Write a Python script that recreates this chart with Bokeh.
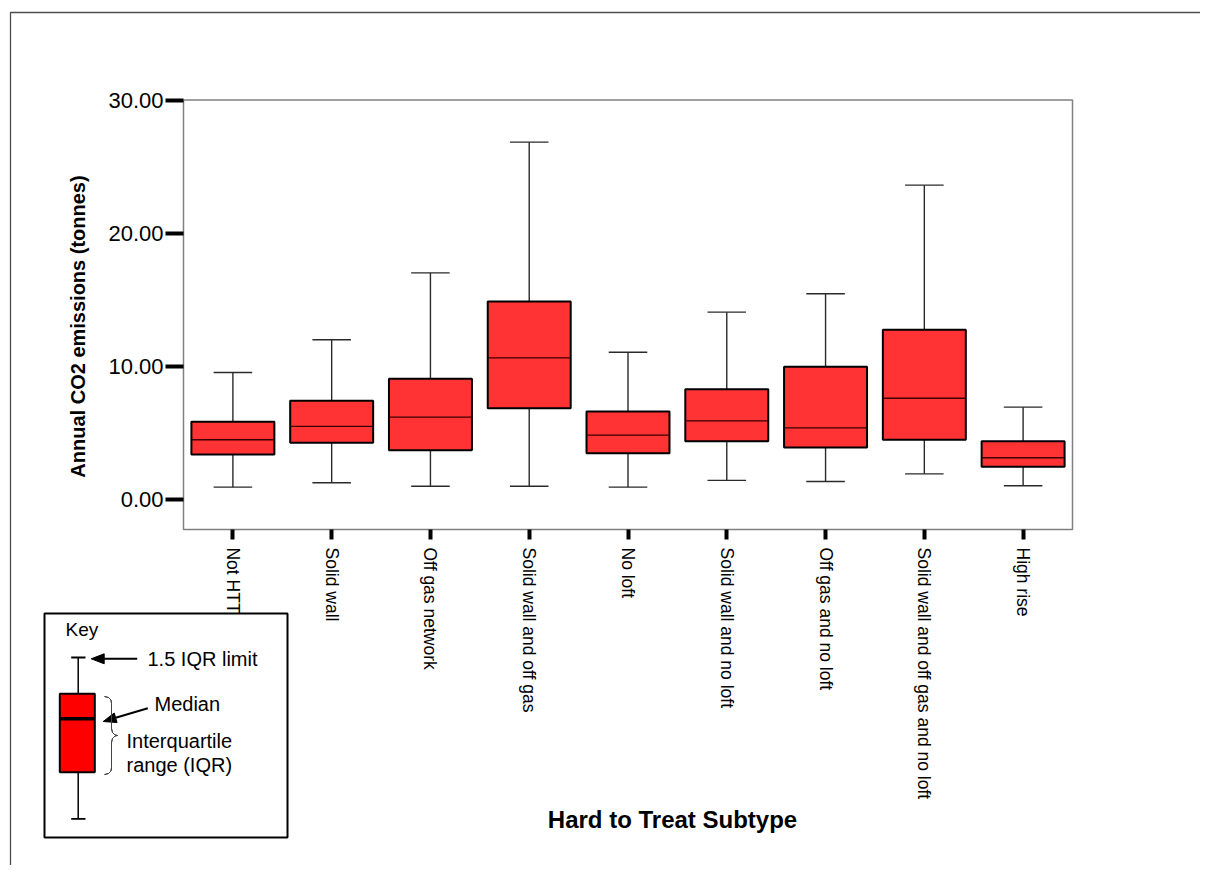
import math
from bokeh.plotting import figure
from bokeh.models import (ColumnDataSource, Range1d, Label, PolyAnnotation, BoxAnnotation,
                          FixedTicker, PrintfTickFormatter, LinearAxis)
from bokeh.transform import dodge
from bokeh.embed import file_html
from bokeh.resources import INLINE

# ---------------- data ----------------
subtypes = ["Not HTT", "Solid wall", "Off gas network", "Solid wall and off gas",
            "No loft", "Solid wall and no loft", "Off gas and no loft",
            "Solid wall and off gas and no loft", "High rise"]
whisker_high = [9.56, 12.02, 17.05, 26.87, 11.09, 14.10, 15.48, 23.64, 6.96]
upper_quartile = [5.86, 7.44, 9.09, 14.90, 6.63, 8.31, 9.99, 12.77, 4.40]
median = [4.51, 5.51, 6.21, 10.67, 4.86, 5.93, 5.41, 7.63, 3.16]
lower_quartile = [3.40, 4.28, 3.73, 6.88, 3.50, 4.39, 3.93, 4.51, 2.48]
whisker_low = [0.95, 1.28, 1.02, 1.02, 0.95, 1.46, 1.37, 1.95, 1.05]
y_ticks = [0, 10, 20, 30]

FONT = "Liberation Sans"
W, H = 1200, 865

# geometry of the plotting area (page px) and of the data window
PL, PR = 183.0, 1072.0          # plot area left / right
Y0_PX, Y30_PX = 499.3, 100.0    # pixel rows of y=0 and y=30
SX = (PR - PL) / len(subtypes)  # px per category
SY = (Y0_PX - Y30_PX) / 30.0    # px per tonne
X_START = -PL / SX
X_END = X_START + W / SX
Y_END = Y0_PX / SY
Y_START = Y_END - H / SY
Y_BOTTOM = Y_END - 529.0 / SY   # bottom edge of plot area
Y_TOP = Y_END - 99.5 / SY       # top edge of plot area

p = figure(width=W, height=H, title=None, x_axis_type=None, y_axis_type=None,
           x_range=Range1d(X_START, X_END), y_range=Range1d(Y_START, Y_END),
           output_backend="svg", toolbar_location=None, min_border=0)
p.xgrid.visible = False
p.ygrid.visible = False
p.outline_line_color = None
p.background_fill_color = "white"
p.border_fill_color = "white"

xpos = [i + 0.5 for i in range(len(subtypes))]
src = ColumnDataSource(dict(x=xpos, cat=subtypes, hi=whisker_high, q3=upper_quartile,
                            med=median, q1=lower_quartile, lo=whisker_low))

# plot-area frame
p.add_layout(BoxAnnotation(left=0, right=len(subtypes), bottom=Y_BOTTOM, top=Y_TOP,
                           fill_alpha=0, fill_color=None, line_color="#808080",
                           line_alpha=1, line_width=1.5, level="underlay"))

wcol = "#2a2a2a"
p.segment(x0="x", y0="q3", x1="x", y1="hi", source=src, line_color=wcol, line_width=1.4)
p.segment(x0="x", y0="lo", x1="x", y1="q1", source=src, line_color=wcol, line_width=1.4)
p.segment(x0=dodge("x", -0.195), y0="hi", x1=dodge("x", 0.195), y1="hi", source=src,
          line_color=wcol, line_width=1.4)
p.segment(x0=dodge("x", -0.195), y0="lo", x1=dodge("x", 0.195), y1="lo", source=src,
          line_color=wcol, line_width=1.4)
p.vbar(x="x", top="q3", bottom="q1", width=0.84, source=src,
       fill_color="#FF3333", line_color="black", line_width=2)
p.segment(x0=dodge("x", -0.42), y0="med", x1=dodge("x", 0.42), y1="med", source=src,
          line_color="#3a0000", line_width=1.3)

# ---------------- axes (fixed at the plot-area edges) ----------------
ya = LinearAxis(fixed_location=0)
ya.ticker = FixedTicker(ticks=y_ticks)
ya.formatter = PrintfTickFormatter(format="%.2f")
ya.axis_line_color = None
ya.major_tick_line_width = 4
ya.major_tick_line_color = "black"
ya.major_tick_out = 18
ya.major_tick_in = 0
ya.minor_tick_line_color = None
ya.major_label_standoff = 2
ya.major_label_text_font = FONT
ya.major_label_text_font_size = "22px"
ya.major_label_text_color = "black"
p.add_layout(ya, "left")

xa = LinearAxis(fixed_location=Y_BOTTOM)
xa.ticker = FixedTicker(ticks=xpos)
xa.major_label_overrides = {x: c for x, c in zip(xpos, subtypes)}
xa.axis_line_color = None
xa.major_tick_line_width = 4
xa.major_tick_line_color = "black"
xa.major_tick_out = 10
xa.major_tick_in = 0
xa.minor_tick_line_color = None
xa.major_label_orientation = -math.pi / 2
xa.major_label_standoff = 8
xa.major_label_text_font = FONT
xa.major_label_text_font_size = "17.5px"
xa.major_label_text_color = "black"
p.add_layout(xa, "below")


# ---------------- helpers: page px -> data coordinates ----------------
def dx(px):
    return X_START + px / SX


def dy(py):
    return Y_END - py / SY


def poly(xs, ys, **kw):
    kw.setdefault("line_alpha", 1)
    p.add_layout(PolyAnnotation(xs=[dx(x) for x in xs], ys=[dy(y) for y in ys], **kw))


def line(xs, ys, color="black", width=1.5):
    poly(list(xs) + list(xs[::-1]), list(ys) + list(ys[::-1]),
         fill_color=None, fill_alpha=0, line_color=color, line_width=width)


def text(px, py, s, size="20px", bold=False, angle=0.0, align="left"):
    p.add_layout(Label(x=dx(px), y=dy(py), text=s,
                       text_font=FONT, text_font_size=size,
                       text_font_style="bold" if bold else "normal",
                       text_align=align, text_baseline="middle", angle=angle,
                       text_color="black"))


def arrow(x0, y0, x1, y1, head=13, half=5):
    ddx, ddy = x1 - x0, y1 - y0
    L = math.hypot(ddx, ddy)
    ux, uy = ddx / L, ddy / L
    bx, by = x1 - head * ux, y1 - head * uy
    line([x0, bx], [y0, by], width=2)
    nx, ny = -uy, ux
    poly([x1, bx + half * nx, bx - half * nx], [y1, by + half * ny, by - half * ny],
         fill_color="black", fill_alpha=1, line_color="black", line_width=1)


# axis titles
text(77, 326, "Annual CO2 emissions (tonnes)", size="20px", bold=True,
     angle=math.pi / 2, align="center")
text(672, 819, "Hard to Treat Subtype", size="24px", bold=True, align="center")

# outer border of the chart area
line([10, 10, 1400], [1100, 12, 12], color="#4d4d4d", width=1.3)

# ---------------- key ----------------
poly([44, 287, 287, 44], [613, 613, 837, 837], fill_color="white", fill_alpha=1,
     line_color="black", line_width=2)
text(65, 629, "Key", size="19px")
line([77.7, 77.7], [657, 818.3], width=1.5)
line([70.7, 85], [657, 657], width=1.8)
line([70.7, 85], [818.3, 818.3], width=1.8)
poly([59.3, 94.3, 94.3, 59.3], [693.3, 693.3, 771.7, 771.7], fill_color="#FF0000",
     fill_alpha=1, line_color="black", line_width=2)
line([59.3, 94.3], [718.3, 718.3], width=3.5)
arrow(136.7, 658.3, 90.7, 658.3)
arrow(147.3, 707.7, 102.7, 721)
brace_x = [104, 108, 110.5, 111, 111, 112, 114.5, 117, 114.5, 112, 111, 111, 110.5, 108, 104]
brace_y = [696, 697, 699.5, 703, 728, 732, 734.5, 735, 735.5, 738, 742, 767, 770.5, 773, 774]
line(brace_x, brace_y, color="#444444", width=1)
text(147, 658, "1.5 IQR limit", size="20px")
text(154, 703, "Median", size="20px")
text(126, 740, "Interquartile", size="20px")
text(126, 764, "range (IQR)", size="20px")

open("out.html", "w").write(file_html(p, INLINE))
